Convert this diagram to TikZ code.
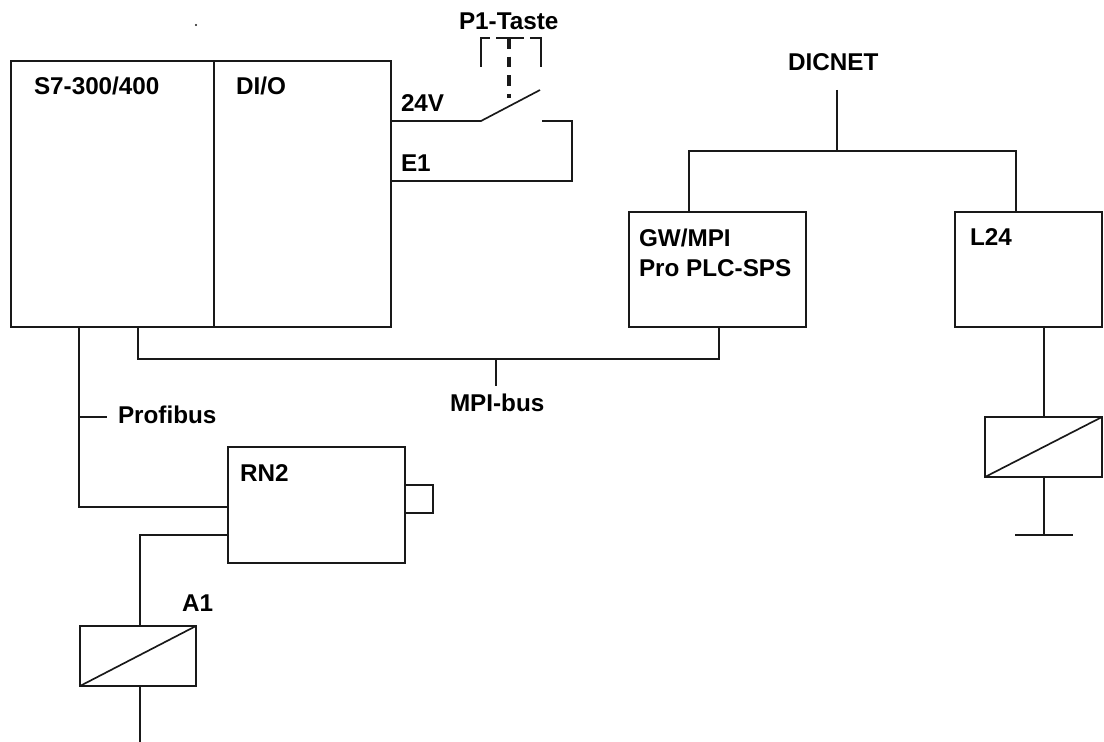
\documentclass[tikz,border=0pt]{standalone}
\usepackage{fontspec}
\setmainfont{Liberation Sans}
\begin{document}
\begin{tikzpicture}[x=0.75pt,y=-0.75pt,
  line width=1.25pt, line join=miter, color=black!90,
  bx/.style 2 args={draw,minimum width=#1*0.75pt,minimum height=#2*0.75pt,inner sep=0pt,outer sep=0pt},
  lbl/.style={anchor=west,inner sep=0pt,outer sep=0pt,text=black,font=\fontsize{18.2}{22.5}\selectfont\bfseries,align=left}]
\useasboundingbox[fill=white] (0,0) rectangle (1104,742);
% boxes
\node[bx={203}{266}] (s7) at (112.5,194) {};
\node[bx={177}{266}] (dio) at (302.5,194) {};
\node[bx={177}{115}] (gw) at (717.5,269.5) {};
\node[bx={147}{115}] (l24) at (1028.5,269.5) {};
\node[bx={177}{116}] (rn2) at (316.5,505) {};
\node[bx={28}{28}] (knob) at (419,499) {};
\node[bx={116}{60}] (coila) at (138,656) {};
\node[bx={117}{60}] (coilb) at (1043.5,447) {};
% labels
\node[lbl] (ts7) at (34,86) {S7-300/400};
\node[lbl] (tdio) at (236,86) {DI/O};
\node[lbl] (t24) at (401,103) {24V};
\node[lbl] (te1) at (401,163) {E1};
\node[lbl] (tp1) at (459,21) {P1-Taste};
\node[lbl] (tdic) at (788,62) {DICNET};
\node[lbl] (tgw) at (639,253) {GW/MPI\\Pro PLC-SPS};
\node[lbl] (tl24) at (970,237) {L24};
\node[lbl] (tprof) at (118,415) {Profibus};
\node[lbl] (tmpi) at (450,403) {MPI-bus};
\node[lbl] (trn2) at (240,473) {RN2};
\node[lbl] (ta1) at (182,603) {A1};
% coordinates
\coordinate (swa) at (481,121);
\coordinate (swb) at (540,90);
\coordinate (swc) at (542,121);
\coordinate (swd) at (572,121);
\coordinate (swe) at (572,181);
\coordinate (dtop) at (837,90);
\coordinate (dj) at (837,151);
\coordinate (dl) at (689,151);
\coordinate (dr) at (1016,151);
\coordinate (ma) at (138,359);
\coordinate (mb) at (719,359);
\coordinate (mt) at (496,359);
\coordinate (mtb) at (496,386);
\coordinate (pa) at (79,417);
\coordinate (pb) at (107,417);
\coordinate (pc) at (79,507);
\coordinate (qa) at (140,535);
\coordinate (lb) at (1044,535);
\coordinate (la) at (1015,535);
\coordinate (lc) at (1073,535);
\coordinate (endb) at (140,742);
% bracket and actuator
\coordinate (ba) at (481,67);
\coordinate (bb) at (481,38);
\coordinate (bc) at (490,38);
\coordinate (bd) at (496,38);
\coordinate (be) at (524,38);
\coordinate (bf) at (530,38);
\coordinate (bg) at (541,38);
\coordinate (bh) at (541,67);
\coordinate (ca) at (509,38);
\coordinate (cb) at (509,98);
\draw (ba)--(bb)--(bc);
\draw (bd)--(be);
\draw (bf)--(bg)--(bh);
\draw[line width=2.3pt,dash pattern=on 8pt off 6pt] (ca)--(cb);
% switch
\draw (dio.east |- swa)--(swa)--(swb);
\draw (swc)--(swd)--(swe)--(dio.east |- swe);
% dicnet
\draw (dtop)--(dj);
\draw (gw.north -| dl)--(dl)--(dr)--(l24.north -| dr);
% mpi
\draw (s7.south -| ma)--(ma)--(mb)--(gw.south -| mb);
\draw (mt)--(mtb);
% profibus
\draw (s7.south -| pa)--(pc)--(rn2.west |- pc);
\draw (pa)--(pb);
% rn2 - coil a
\draw (rn2.west |- qa)--(qa)--(coila.north -| qa);
\draw (coila.south -| qa)--(endb);
% coil diagonals
\draw (coila.south west)--(coila.north east);
\draw (coilb.south west)--(coilb.north east);
% l24
\draw (l24.south -| lb)--(coilb.north -| lb);
\draw (coilb.south -| lb)--(lb);
\draw (la)--(lc);
% speck
\fill (196,25) circle[radius=1.2];
\end{tikzpicture}
\end{document}
